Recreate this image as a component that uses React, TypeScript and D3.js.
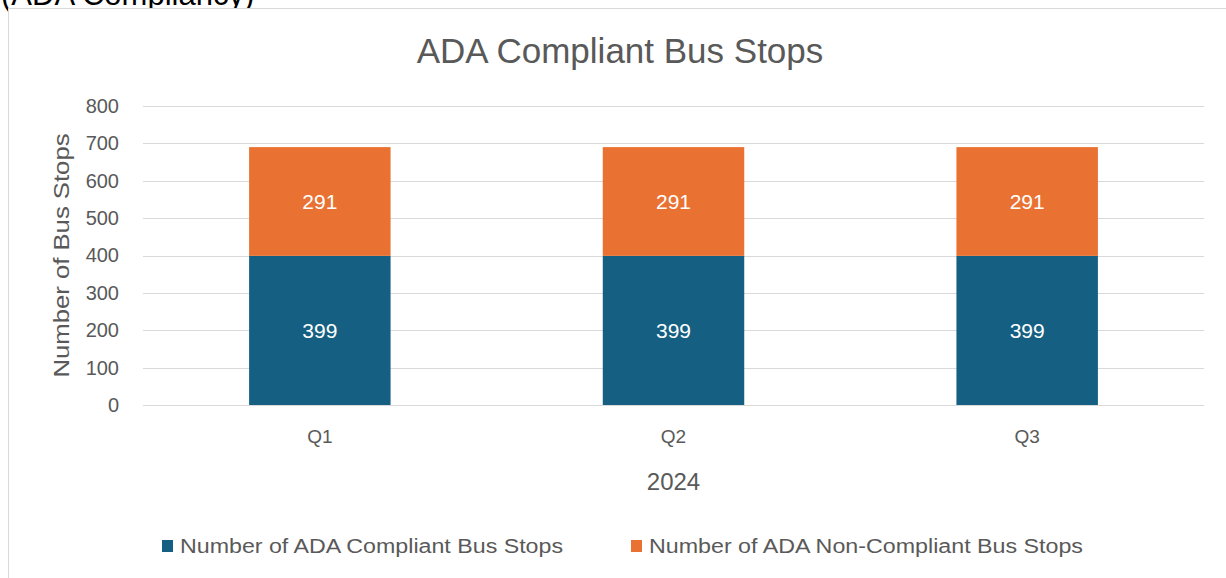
import { useRef, useEffect } from "react";
import * as d3 from "d3";

const FONT = "'Liberation Sans', Arial, sans-serif";
const TEXT = "#595959";

const categories = ["Q1", "Q2", "Q3"];
const compliant = [399, 399, 399];
const nonCompliant = [291, 291, 291];
const yTicks = [0, 100, 200, 300, 400, 500, 600, 700, 800];
const seriesNames = ["Number of ADA Compliant Bus Stops", "Number of ADA Non-Compliant Bus Stops"];
const COLORS = ["#156082", "#E97132"];

const W = 1226;
const H = 578;

export default function App() {
  const ref = useRef<SVGSVGElement>(null);

  useEffect(() => {
    if (!ref.current) return;
    const svg = d3.select(ref.current);
    svg.selectAll("*").remove();

    const mg = { t: 106, r: 22, b: 173, l: 143 };

    // heading of the page above, cut off by the frame
    svg.append("text")
      .attr("x", 1).attr("y", 5)
      .attr("font-family", FONT).attr("font-size", "31px").attr("fill", "#000")
      .text("(ADA Compliancy)");

    // chart frame
    svg.append("rect")
      .attr("x", 8.5).attr("y", 8.5).attr("width", W + 10).attr("height", H + 10)
      .attr("fill", "#fff").attr("stroke", "#d9d9d9").attr("stroke-width", 1);

    const x = d3.scaleBand<string>()
      .domain(categories)
      .range([mg.l, W - mg.r])
      .paddingInner(0.6)
      .paddingOuter(0.3);

    const y = d3.scaleLinear().domain([0, 800]).range([H - mg.b, mg.t]);

    // gridlines
    yTicks.forEach((t) => {
      svg.append("line")
        .attr("x1", mg.l).attr("x2", W - mg.r)
        .attr("y1", Math.round(y(t)) + 0.5).attr("y2", Math.round(y(t)) + 0.5)
        .attr("stroke", "#d9d9d9").attr("stroke-width", 1);
    });

    // y tick labels
    svg.append("g")
      .attr("transform", `translate(${mg.l - 24},0)`)
      .call(d3.axisLeft(y).tickValues(yTicks).tickSize(0).tickPadding(0))
      .call((g) => g.select(".domain").remove())
      .selectAll("text")
      .attr("fill", TEXT).attr("font-size", "20px").attr("font-family", FONT);

    // stacked bars
    const stackData = categories.map((c, i) => ({ cat: c, a: compliant[i], b: nonCompliant[i] }));
    const stack = d3.stack<typeof stackData[0]>().keys(["a", "b"])(stackData);

    stack.forEach((layer, li) => {
      layer.forEach((d) => {
        const cat = d.data.cat;
        svg.append("rect")
          .attr("x", x(cat)!).attr("width", x.bandwidth())
          .attr("y", y(d[1])).attr("height", y(d[0]) - y(d[1]))
          .attr("fill", COLORS[li]);
        svg.append("text")
          .attr("x", x(cat)! + x.bandwidth() / 2)
          .attr("y", (y(d[0]) + y(d[1])) / 2 + 8)
          .attr("text-anchor", "middle")
          .attr("fill", "#fff").attr("font-size", "21px").attr("font-family", FONT)
          .text(d[1] - d[0]);
      });
    });

    // category labels
    categories.forEach((c) => {
      svg.append("text")
        .attr("x", x(c)! + x.bandwidth() / 2).attr("y", 443)
        .attr("text-anchor", "middle")
        .attr("fill", TEXT).attr("font-size", "19px").attr("font-family", FONT)
        .text(c);
    });

    // x axis title
    svg.append("text")
      .attr("x", (mg.l + W - mg.r) / 2).attr("y", 490)
      .attr("text-anchor", "middle")
      .attr("fill", TEXT).attr("font-size", "24px").attr("font-family", FONT)
      .text("2024");

    // y axis title
    svg.append("text")
      .attr("transform", `translate(69,${(mg.t + H - mg.b) / 2}) rotate(-90)`)
      .attr("text-anchor", "middle")
      .attr("fill", TEXT).attr("font-size", "22px").attr("font-family", FONT)
      .attr("textLength", 244).attr("lengthAdjust", "spacingAndGlyphs")
      .text("Number of Bus Stops");

    // title
    svg.append("text")
      .attr("x", 620).attr("y", 63)
      .attr("text-anchor", "middle")
      .attr("fill", TEXT).attr("font-size", "35px").attr("font-family", FONT)
      .text("ADA Compliant Bus Stops");

    // legend
    const legX = [162, 631];
    const legLen = [383, 434];
    seriesNames.forEach((name, i) => {
      svg.append("rect")
        .attr("x", legX[i]).attr("y", 540).attr("width", 11).attr("height", 12)
        .attr("fill", COLORS[i]);
      svg.append("text")
        .attr("x", legX[i] + 18).attr("y", 553)
        .attr("fill", TEXT).attr("font-size", "20px").attr("font-family", FONT)
        .attr("textLength", legLen[i]).attr("lengthAdjust", "spacingAndGlyphs")
        .text(name);
    });
  }, []);

  return (
    <svg ref={ref} width={W} height={H}
      style={{ position: "absolute", left: 0, top: 0, display: "block", background: "#fff" }} />
  );
}
